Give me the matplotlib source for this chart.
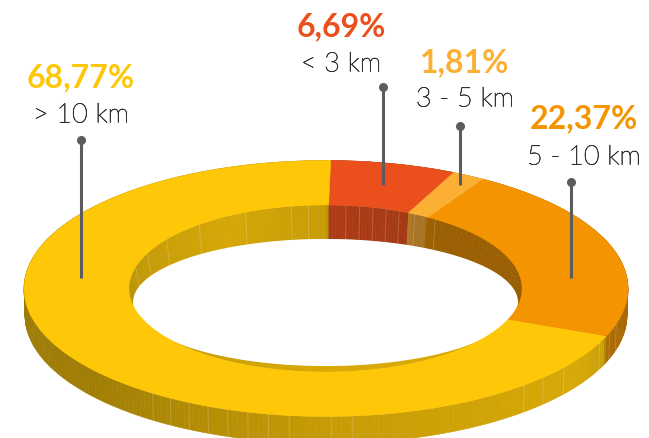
import numpy as np
import matplotlib
matplotlib.use("Agg")
import matplotlib.pyplot as plt
import matplotlib.patheffects as pe
from matplotlib.patches import Polygon

# values go clockwise from the top
labels = ["< 3 km", "3 - 5 km", "5 - 10 km", "> 10 km"]
percents = [6.69, 1.81, 22.37, 68.77]
percent_labels = ["6,69%", "1,81%", "22,37%", "68,77%"]
colors = ["#eb501c", "#fbb034", "#f39400", "#fec707"]

start_angle = 0.9
text_x = [341, 465, 584, 81]
value_y = [27, 63, 119, 78]
label_y = [65, 100, 158, 116]
pin_x = [383, 460, 571, 81]
pin_top = [88, 127, 183, 141]
pin_bottom = [186, 186, 279, 279]

# ellipses in pixels: cx, cy, a, b
outer_top = (326, 289.5, 302, 128)
outer_low = (326, 316.5, 301, 128)
inner_top = (325.5, 289.5, 196.5, 83.5)
inner_low = (325.5, 303.5, 192.5, 63.5)


def ellipse_points(e, t):
    t = np.radians(t)
    return np.column_stack([e[0] + e[2] * np.sin(t), e[1] - e[3] * np.cos(t)])


def shade(color, f):
    return tuple(c * f for c in matplotlib.colors.to_rgb(color))


edges = start_angle + np.cumsum([0] + percents) * 3.6
edges[-1] = start_angle + 360  # the printed shares stop short of 100


def color_at(t):
    t = (t - start_angle) % 360 + start_angle
    i = np.searchsorted(edges, t, side="right") - 1
    return colors[min(i, 3)]


def draw_wall(ax, e1, e2, ts, tf, ff, z):
    step = 1.0
    for a in np.arange(0, 360, step):
        tt = np.array([a, a + step])
        p1 = ellipse_points(e1, tt)
        p2 = ellipse_points(e2, tt)
        c = shade(color_at(a + step / 2), np.interp(a, tf, ff))
        ax.add_patch(Polygon(np.vstack([p1, p2[::-1]]), fc=c, ec=c, lw=0.4, zorder=z))
    for a in ts:
        p = np.vstack([ellipse_points(e1, [a]), ellipse_points(e2, [a])])
        ax.plot(p[:, 0], p[:, 1], color="white", alpha=0.16, lw=0.8, zorder=z + 0.1)


fig = plt.figure(figsize=(6.49, 4.39), dpi=100)
ax = fig.add_axes([0, 0, 1, 1])
ax.set_xlim(0, 649)
ax.set_ylim(439, 0)
ax.axis("off")

# outer side, then the inner wall, then the top face
draw_wall(ax, outer_top, outer_low,
          [106, 110, 115, 128, 134, 139, 175, 179, 187, 191, 195, 199, 203, 207, 211, 215],
          [0, 90, 112, 113, 125, 180, 230, 270, 360],
          [0.7, 0.7, 0.7, 0.8, 0.85, 0.78, 0.63, 0.62, 0.7], 1)
draw_wall(ax, inner_top, inner_low,
          [6, 10, 14, 18, 22, 27, 34, 285, 295, 306, 320, 336, 350, 355],
          [0, 25, 26, 31, 32, 110, 111, 180, 270, 330, 360],
          [0.74, 0.70, 0.66, 0.66, 0.64, 0.62, 0.85, 0.85, 0.73, 0.84, 0.78], 2)

for i in range(4):
    tt = np.linspace(edges[i], edges[i + 1], 200)
    ring = np.vstack([ellipse_points(outer_top, tt), ellipse_points(inner_top, tt[::-1])])
    ax.add_patch(Polygon(ring, fc=colors[i], ec=colors[i], lw=0.3, zorder=3))

# hole stays white
tt = np.linspace(0, 360, 361)
ax.add_patch(Polygon(ellipse_points(inner_low, tt), fc="white", ec="none", zorder=2.5))

for i in range(4):
    ax.plot([pin_x[i], pin_x[i]], [pin_top[i], pin_bottom[i]], color="#5c5c5c", lw=2.2,
            solid_capstyle="butt", zorder=4)
    ax.plot(pin_x[i], pin_top[i], "o", color="#5c5c5c", ms=6.5, mew=0, zorder=4)
    ax.text(text_x[i], value_y[i], percent_labels[i], color=colors[i], family="Lato",
            weight="bold", fontsize=23, ha="center", va="center", zorder=5)
    t = ax.text(text_x[i], label_y[i], labels[i], color="#333333", family="Lato",
                weight="light", fontsize=19.5, ha="center", va="center", zorder=5)
    # light face comes out too pale on its own
    t.set_path_effects([pe.withStroke(linewidth=0.45, foreground="#333333")])

fig.savefig("out.png", dpi=100)
